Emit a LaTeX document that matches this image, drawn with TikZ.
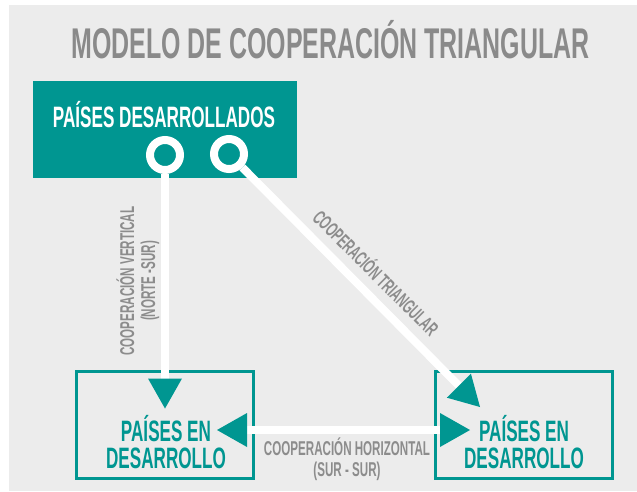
\documentclass[tikz,border=0pt]{standalone}
\usepackage{fontspec}
\setmainfont[FakeStretch=0.58]{Liberation Sans}
\usetikzlibrary{arrows.meta}
\definecolor{tealc}{RGB}{0,150,145}
\definecolor{bggray}{RGB}{236,236,236}
\definecolor{titlegray}{RGB}{138,138,138}
\definecolor{lblgray}{RGB}{140,140,140}
\begin{document}
\begin{tikzpicture}[x=1pt,y=-1pt,
  titletxt/.style={font=\fontsize{43}{43}\selectfont\bfseries, text=titlegray, inner sep=0pt},
  boxtxt/.style={font=\fontsize{29.5}{29.5}\selectfont\bfseries, inner sep=0pt},
  lbl/.style={font=\fontsize{20}{20}\selectfont\bfseries, text=lblgray, inner sep=0pt},
  ring/.style={circle, draw=white, fill=tealc, line width=8pt, minimum size=30pt, inner sep=0pt},
  filledbox/.style={rectangle, fill=tealc, minimum width=264pt, minimum height=97pt, inner sep=0pt},
  outlinebox/.style={rectangle, draw=tealc, line width=3pt, minimum width=177pt, minimum height=107pt, inner sep=0pt},
  wline/.style={draw=white, line width=8pt},
  tipend/.style={-{Triangle[length=30pt,width=34pt,color=tealc,line width=0pt]}},
  tipboth/.style={{Triangle[length=30pt,width=34pt,color=tealc,line width=0pt]}-{Triangle[length=30pt,width=34pt,color=tealc,line width=0pt]}}
]
\useasboundingbox (0,0) rectangle (637,491);
\fill[bggray] (9,5) rectangle (637,491);

% title
\node[titletxt, anchor=base] (title) at (330.5,58) {MODELO DE COOPERACIÓN TRIANGULAR};

% boxes
\node[filledbox] (dev) at (165,129.5) {};
\node[boxtxt, text=white, anchor=base] (devtxt) at (164,127) {PAÍSES DESARROLLADOS};
\node[ring] (c1) at (165,155) {};
\node[ring] (c2) at (229,154) {};

\node[outlinebox] (devL) at (165,425) {};
\node[outlinebox] (devR) at (523.5,425) {};
\node[boxtxt, text=tealc, anchor=base] (devLa) at (166,441) {PAÍSES EN};
\node[boxtxt, text=tealc, anchor=base] (devLb) at (166,468) {DESARROLLO};
\node[boxtxt, text=tealc, anchor=base] (devRa) at (524,441) {PAÍSES EN};
\node[boxtxt, text=tealc, anchor=base] (devRb) at (524,468) {DESARROLLO};

% connectors
\coordinate (tipL) at ([yshift=-38.5pt]devL.north);
\coordinate (tipR) at ([xshift=46.5pt,yshift=-37pt]devR.north west);
\coordinate (hL) at ([xshift=-38pt,yshift=-5pt]devL.east);
\coordinate (hR) at ([xshift=36.5pt,yshift=-5pt]devR.west);
\draw[wline, tipend] (c1) -- (tipL);
\draw[wline, tipend] (c2) -- (tipR);
\draw[wline, tipboth] (hL) -- (hR);

% labels
\node[lbl, rotate=90, anchor=base] (vl1) at (134,281) {COOPERACIÓN VERTICAL};
\node[lbl, rotate=90, anchor=base] (vl2) at (155,281) {(NORTE -SUR)};
\node[lbl, rotate=-45, anchor=base] (dl) at (370.7,278.3) {COOPERACIÓN TRIANGULAR};
\node[lbl, anchor=base] (hl1) at (347,455) {COOPERACIÓN HORIZONTAL};
\node[lbl, anchor=base] (hl2) at (347,476) {(SUR - SUR)};
\end{tikzpicture}
\end{document}
